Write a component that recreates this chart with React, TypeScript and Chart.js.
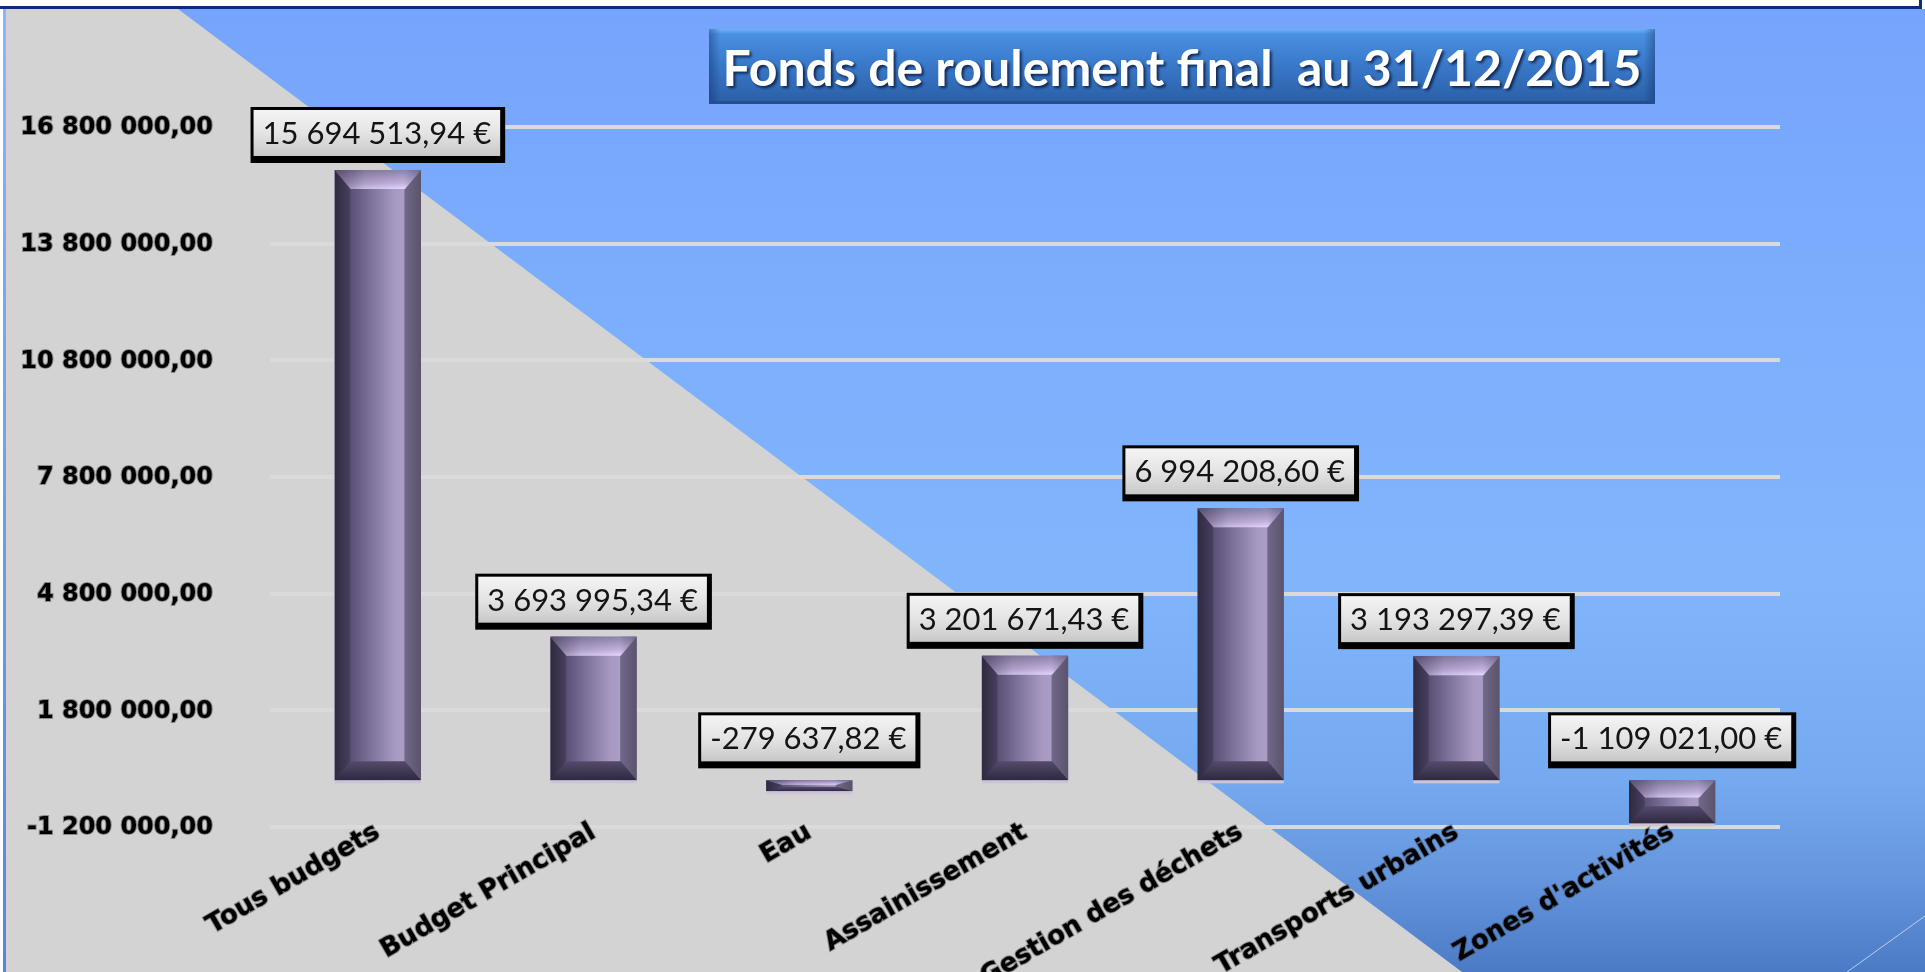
import React, { useEffect, useRef } from 'react';
import { Chart, registerables } from 'chart.js';

Chart.register(...registerables);

// ---------- data ----------
const categories: string[] = [
  'Tous budgets',
  'Budget Principal',
  'Eau',
  'Assainissement',
  'Gestion des déchets',
  'Transports urbains',
  "Zones d'activités",
];
const values: number[] = [
  15694513.94, 3693995.34, -279637.82, 3201671.43, 6994208.6, 3193297.39, -1109021.0,
];
const yMin = -1200000;
const yMax = 16800000;
const yStep = 3000000;
const titleText = 'Fonds de roulement final  au 31/12/2015';
const currencySuffix = ' €';

function formatFr(v: number, decimals = 2): string {
  const neg = v < 0;
  const fixed = Math.abs(v).toFixed(decimals);
  const [intPart, decPart] = fixed.split('.');
  const grouped = intPart.replace(/\B(?=(\d{3})+(?!\d))/g, ' ');
  return (neg ? '-' : '') + grouped + (decPart ? ',' + decPart : '');
}

// ---------- plugins ----------
const backgroundPlugin = {
  id: 'slideBackground',
  beforeDraw(chart: any) {
    const ctx = chart.ctx as CanvasRenderingContext2D;
    const W = chart.width;
    const H = chart.height;
    ctx.save();
    ctx.fillStyle = '#ffffff';
    ctx.fillRect(0, 0, W, H);
    const g = ctx.createLinearGradient(0, 9, 0, H);
    g.addColorStop(0, '#76a4fc');
    g.addColorStop(0.35, '#7caffd');
    g.addColorStop(0.6, '#81b5fb');
    g.addColorStop(0.8, '#76aaf0');
    g.addColorStop(0.9, '#6596de');
    g.addColorStop(1, '#4c7bc6');
    ctx.fillStyle = g;
    ctx.fillRect(3, 9, W - 3, H - 9);
    // grey triangle
    ctx.fillStyle = '#d3d3d3';
    ctx.beginPath();
    ctx.moveTo(6, 9);
    ctx.lineTo(178, 9);
    ctx.lineTo(1462, H);
    ctx.lineTo(6, H);
    ctx.closePath();
    ctx.fill();
    // left edge line
    const lg = ctx.createLinearGradient(0, 9, 0, H);
    lg.addColorStop(0, '#8ab6fa');
    lg.addColorStop(1, '#5585e0');
    ctx.fillStyle = lg;
    ctx.fillRect(3, 9, 3, H - 9);
    // top band
    ctx.fillStyle = '#ffffff';
    ctx.fillRect(0, 0, W, 6);
    ctx.fillStyle = '#0c2c80';
    ctx.fillRect(0, 6, 1922, 3);
    ctx.fillRect(1919, 0, 3, 9);
    // faint diagonal line bottom right
    ctx.strokeStyle = 'rgba(205,220,245,0.85)';
    ctx.lineWidth = 1;
    ctx.beginPath();
    ctx.moveTo(W, 916);
    ctx.lineTo(1847, H);
    ctx.stroke();
    ctx.restore();
  },
};

function drawBevelBar(ctx: CanvasRenderingContext2D, x0: number, x1: number, yTop: number, yBot: number) {
  const w = x1 - x0;
  const h = yBot - yTop;
  if (h <= 0.5) return;
  const bh = Math.min(16, w * 0.19);
  const bv = Math.min(19, h * 0.4);
  const body = ctx.createLinearGradient(x0, 0, x1, 0);
  body.addColorStop(0, '#2f2940');
  body.addColorStop(0.17, '#463e5c');
  body.addColorStop(0.19, '#5b5176');
  body.addColorStop(0.45, '#8277a0');
  body.addColorStop(0.7, '#a899c2');
  body.addColorStop(0.8, '#ab9dc5');
  body.addColorStop(0.815, '#716788');
  body.addColorStop(1, '#5b536b');
  ctx.fillStyle = body;
  ctx.fillRect(x0, yTop, w, h);

  // top bevel
  ctx.beginPath();
  ctx.moveTo(x0, yTop);
  ctx.lineTo(x1, yTop);
  ctx.lineTo(x1 - bh, yTop + bv);
  ctx.lineTo(x0 + bh, yTop + bv);
  ctx.closePath();
  const tg = ctx.createLinearGradient(0, yTop, 0, yTop + bv);
  tg.addColorStop(0, '#8f83a9');
  tg.addColorStop(0.7, '#c2b2df');
  tg.addColorStop(1, '#e4d6fb');
  ctx.fillStyle = tg;
  ctx.fill();
  const tg2 = ctx.createLinearGradient(x0, 0, x1, 0);
  tg2.addColorStop(0, 'rgba(30,20,50,0.5)');
  tg2.addColorStop(0.35, 'rgba(30,20,50,0.12)');
  tg2.addColorStop(0.8, 'rgba(30,20,50,0)');
  tg2.addColorStop(1, 'rgba(30,20,50,0.25)');
  ctx.fillStyle = tg2;
  ctx.fill();

  // bottom bevel
  ctx.beginPath();
  ctx.moveTo(x0, yBot);
  ctx.lineTo(x1, yBot);
  ctx.lineTo(x1 - bh, yBot - bv);
  ctx.lineTo(x0 + bh, yBot - bv);
  ctx.closePath();
  const bg = ctx.createLinearGradient(0, yBot - bv, 0, yBot);
  bg.addColorStop(0, '#544b6c');
  bg.addColorStop(1, '#2e2840');
  ctx.fillStyle = bg;
  ctx.fill();

  // light base strip
  ctx.fillStyle = '#cdc4da';
  ctx.fillRect(x0, yBot, w, 3);
}

const bevelPlugin = {
  id: 'bevelBars',
  afterDatasetsDraw(chart: any) {
    const ctx = chart.ctx as CanvasRenderingContext2D;
    const meta = chart.getDatasetMeta(0);
    ctx.save();
    meta.data.forEach((el: any) => {
      const { x, y, base, width } = el.getProps(['x', 'y', 'base', 'width'], true);
      const top = Math.min(y, base);
      const bot = Math.max(y, base);
      drawBevelBar(ctx, x - width / 2, x + width / 2, top, bot);
    });
    ctx.restore();
  },
};

const labelPlugin = {
  id: 'valueBoxes',
  afterDatasetsDraw(chart: any) {
    const ctx = chart.ctx as CanvasRenderingContext2D;
    const meta = chart.getDatasetMeta(0);
    const data = chart.data.datasets[0].data as number[];
    ctx.save();
    ctx.font = '31px Lato';
    meta.data.forEach((el: any, i: number) => {
      const v = data[i];
      const text = formatFr(v) + currencySuffix;
      const { x, y, base } = el.getProps(['x', 'y', 'base'], true);
      const tw = ctx.measureText(text).width;
      const w = tw + 26;
      const h = 56;
      const bottom = v >= 0 ? Math.min(y, base) - 7 : base - 12;
      const x0 = x - w / 2;
      const y0 = bottom - h;
      ctx.fillStyle = '#000000';
      ctx.fillRect(x0, y0, w, h);
      const g = ctx.createLinearGradient(0, y0 + 3, 0, y0 + h - 7);
      g.addColorStop(0, '#f4f4f4');
      g.addColorStop(0.5, '#e4e4e4');
      g.addColorStop(1, '#c8c8c8');
      ctx.fillStyle = g;
      ctx.fillRect(x0 + 3, y0 + 3, w - 8, h - 10);
      ctx.fillStyle = '#141414';
      ctx.textAlign = 'center';
      ctx.textBaseline = 'middle';
      ctx.fillText(text, x0 + 3 + (w - 8) / 2, y0 + 3 + (h - 10) / 2 + 1);
    });
    ctx.restore();
  },
};

const titlePlugin = {
  id: 'titleBox',
  afterDraw(chart: any) {
    const ctx = chart.ctx as CanvasRenderingContext2D;
    const x0 = 709, y0 = 29, x1 = 1655, y1 = 104;
    ctx.save();
    const g = ctx.createLinearGradient(0, y0, 0, y1);
    g.addColorStop(0, '#6cb2f6');
    g.addColorStop(0.07, '#4a90e2');
    g.addColorStop(0.45, '#3a7acb');
    g.addColorStop(1, '#2b5ea6');
    ctx.fillStyle = g;
    ctx.fillRect(x0, y0, x1 - x0, y1 - y0);
    const side = ctx.createLinearGradient(x0, 0, x1, 0);
    side.addColorStop(0, 'rgba(10,30,80,0.35)');
    side.addColorStop(0.012, 'rgba(10,30,80,0)');
    side.addColorStop(0.988, 'rgba(10,30,80,0)');
    side.addColorStop(1, 'rgba(10,30,80,0.35)');
    ctx.fillStyle = side;
    ctx.fillRect(x0, y0, x1 - x0, y1 - y0);
    ctx.fillStyle = '#244f8e';
    ctx.fillRect(x0, y1 - 3, x1 - x0, 3);

    let fs = 50;
    ctx.font = `bold ${fs}px Lato`;
    const m = ctx.measureText(titleText).width;
    fs = Math.max(42, Math.min(58, (fs * 919) / m));
    ctx.font = `bold ${fs}px Lato`;
    ctx.shadowColor = 'rgba(0,10,40,0.75)';
    ctx.shadowOffsetX = 2;
    ctx.shadowOffsetY = 2;
    ctx.shadowBlur = 3;
    ctx.fillStyle = '#ffffff';
    ctx.textAlign = 'center';
    ctx.textBaseline = 'alphabetic';
    ctx.fillText(titleText, (x0 + x1) / 2, 86);
    ctx.restore();
  },
};

export default function App() {
  const canvasRef = useRef<HTMLCanvasElement | null>(null);

  useEffect(() => {
    document.body.style.margin = '0';
    const canvas = canvasRef.current;
    if (!canvas) return;
    const yTickFont = { family: 'DejaVu Sans', weight: 'bold' as const, size: 24 };
    const xTickFont = { family: 'DejaVu Sans', weight: 'bold' as const, size: 26 };
    const chart = new Chart(canvas, {
      type: 'bar',
      data: {
        labels: categories,
        datasets: [
          {
            data: values,
            backgroundColor: '#8a7ea6',
            borderWidth: 0,
            barPercentage: 0.4,
            categoryPercentage: 1,
          },
        ],
      },
      options: {
        responsive: false,
        animation: false,
        devicePixelRatio: 1,
        layout: { padding: { left: 8, right: 145, top: 127, bottom: 0 } },
        plugins: {
          legend: { display: false },
          tooltip: { enabled: false },
          title: { display: false },
        },
        scales: {
          x: {
            grid: { display: false, drawTicks: false },
            border: { display: false },
            ticks: {
              autoSkip: false,
              minRotation: 30,
              maxRotation: 30,
              padding: -10,
              z: 1,
              color: '#000000',
              font: xTickFont,
              textStrokeColor: 'rgba(50,50,50,0.45)',
              textStrokeWidth: 2,
            } as any,
            afterFit: (s: any) => {
              s.height = 145;
              // let the rotated labels rise slightly above the axis line (no clipping)
              s._computeLabelArea = () => undefined;
            },
          },
          y: {
            min: yMin,
            max: yMax,
            grid: { color: '#dadada', lineWidth: 4, drawTicks: false },
            border: { display: false },
            ticks: {
              stepSize: yStep,
              padding: 57,
              labelOffset: 1,
              color: '#000000',
              font: yTickFont,
              textStrokeColor: 'rgba(50,50,50,0.45)',
              textStrokeWidth: 2,
              callback: (v: any) => formatFr(Number(v)),
            } as any,
            afterFit: (s: any) => {
              s.width = 262;
            },
          },
        },
      },
      plugins: [backgroundPlugin, bevelPlugin, labelPlugin, titlePlugin],
    });
    return () => chart.destroy();
  }, []);

  return (
    <div style={{ position: 'fixed', left: 0, top: 0, width: 1925, height: 972 }}>
      <canvas ref={canvasRef} width={1925} height={972} style={{ display: 'block' }} />
    </div>
  );
}
